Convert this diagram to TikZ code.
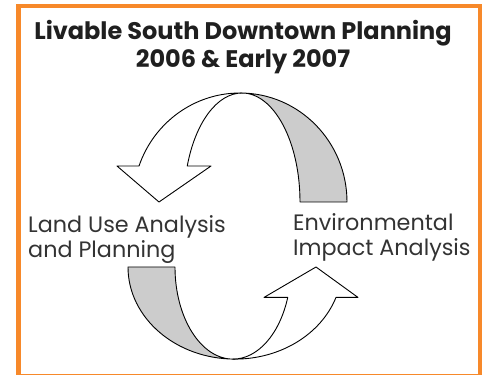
\documentclass[tikz,border=0pt]{standalone}
\usepackage{fontspec}
\setmainfont{Poppins}
\usepackage{tikz}

\definecolor{frameorange}{HTML}{F7892A}
\definecolor{backgray}{HTML}{CCCCCC}

\begin{document}
\begin{tikzpicture}[x=1pt, y=1pt,
		face/.style = {draw=black, line width=0.9pt, line join=round, fill=white},
		backface/.style = {face, fill=backgray},
		heading/.style = {font=\fontsize{24}{28}\selectfont\bfseries, text=black!88, inner sep=0pt},
		label/.style = {font=\fontsize{22.3}{25.5}\selectfont, text=black!80, align=left, inner sep=0pt, anchor=base west},
		halfcycle/.pic = {
			\draw[backface] (240,282) arc[start angle=90, end angle=0, x radius=107, y radius=109]
				-- (300,173) arc[start angle=0, end angle=90, x radius=58, y radius=109] -- cycle;
			\draw[face] (117,209) -- ([shift={(240,173)}]160.7:107 and 109)
				arc[start angle=160.7, end angle=90, x radius=107, y radius=109]
				-- (242,282) arc[start angle=90, end angle=160.7, x radius=58, y radius=109]
				-- (211,209) -- (159,173) -- cycle;
		}]
	\useasboundingbox (0,0) rectangle (488,375);
	\draw[frameorange, line width=4.5pt] (18.5,-1) rectangle (480,369);

	\node[heading, anchor=base] (title) at (243,335) {Livable South Downtown Planning};
	\node[heading, anchor=base] (years) at (243,307) {2006 \& Early 2007};

	\node[label] (landuse) at (28,117) {Land Use Analysis\\and Planning};
	\node[label] (envimpact) at (293,119) {Environmental\\Impact Analysis};

	% upper arrow, then the lower one turned round and a bit flatter
	\pic {halfcycle};
	\pic[shift={(0,108)}, yscale=0.845, shift={(0,-108)}, rotate around={180:(237.5,140.5)}] {halfcycle};
\end{tikzpicture}
\end{document}
